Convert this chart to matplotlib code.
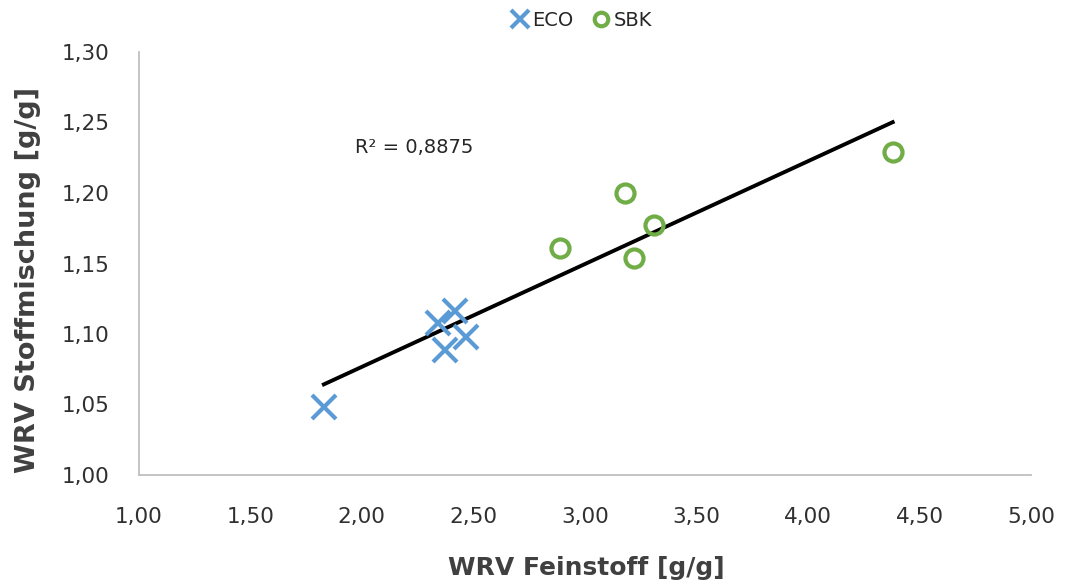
import numpy as np
import matplotlib.pyplot as plt
from matplotlib.ticker import FuncFormatter

plt.rcParams['font.family'] = ['DejaVu Sans']

# WRV values
eco_x = [1.83, 2.34, 2.42, 2.375, 2.465]
eco_y = [1.048, 1.108, 1.116, 1.089, 1.098]
sbk_x = [2.89, 3.18, 3.31, 3.22, 4.38]
sbk_y = [1.161, 1.200, 1.177, 1.154, 1.229]
r2_label = "R² = 0,8875"

W, H = 1067, 587
fig = plt.figure(figsize=(W/100, H/100), dpi=100)
ax = fig.add_axes([138.7/W, 1-475/H, 892.3/W, 423/H])

# linear trend line over all points
all_x = np.array(eco_x + sbk_x)
all_y = np.array(eco_y + sbk_y)
k, d = np.polyfit(all_x, all_y, 1)
lx = np.array([all_x.min(), all_x.max()])
ax.plot(lx, k*lx + d, color='black', lw=2.8, zorder=1)

ax.plot(eco_x, eco_y, 'x', color='#5B9BD5', ms=17, mew=3, label='ECO', zorder=2)
ax.plot(sbk_x, sbk_y, 'o', color='#70AD47', mfc='none', ms=13, mew=3, label='SBK', zorder=2)

ax.text(1.97, 1.232, r2_label, fontsize=14, color='#262626', va='center')

ax.set_xlim(1, 5)
ax.set_ylim(1, 1.3)
ax.set_xticks(np.arange(1, 5.01, 0.5))
ax.set_yticks(np.arange(1, 1.301, 0.05))
fmt = FuncFormatter(lambda v, p: f"{v:.2f}".replace('.', ','))
ax.xaxis.set_major_formatter(fmt)
ax.yaxis.set_major_formatter(fmt)
ax.tick_params(length=0, labelsize=15.5, labelcolor='#303030')
ax.tick_params(axis='y', pad=21)
ax.tick_params(axis='x', pad=23)
for s in ['top', 'right']:
    ax.spines[s].set_visible(False)
for s in ['left', 'bottom']:
    ax.spines[s].set_color('#BFBFBF')
    ax.spines[s].set_linewidth(1.3)

ax.set_xlabel('WRV Feinstoff [g/g]', fontsize=18, fontweight='bold', color='#404040', va='center')
ax.set_ylabel('WRV Stoffmischung [g/g]', fontsize=19.5, fontweight='bold', color='#404040', va='center')
ax.xaxis.set_label_coords(0.502, -0.22)
ax.yaxis.set_label_coords(-0.124, 0.461)

leg = fig.legend(loc='center', bbox_to_anchor=(580/W, 1-20/H), ncol=2, frameon=False,
                 fontsize=14, handletextpad=0.05, columnspacing=0.8, markerscale=0.75,
                 handlelength=1.2)
for t in leg.get_texts():
    t.set_color('#262626')

fig.savefig('out.png', dpi=100)
